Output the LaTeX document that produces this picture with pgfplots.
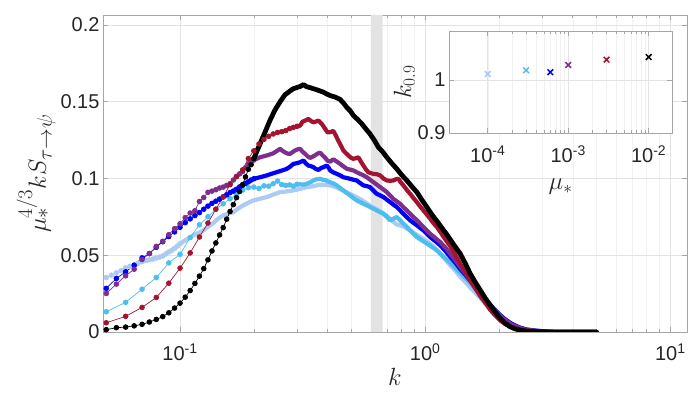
\documentclass[border=0pt]{standalone}
\usepackage{pgfplots}
\pgfplotsset{compat=1.18}
\usepackage{fontspec}
\setmainfont{Liberation Sans}
\definecolor{clight}{HTML}{ADCBF2}
\definecolor{csky}{HTML}{4DBEEE}
\definecolor{cblue}{HTML}{0000FF}
\definecolor{cpurp}{HTML}{7E2F8E}
\definecolor{cred}{HTML}{A2142F}
\definecolor{ctxt}{HTML}{262626}
\definecolor{cbox}{HTML}{A6A6A6}
\pgfplotsset{
  sm/.style={mark=*, mark size=2.4pt, line width=0.7pt},
  dn/.style={line width=4.2pt, line join=round, line cap=round, no marks},
  ix/.style={only marks, mark=x, mark size=4pt, line width=1.5pt},
  mstyle/.style={
    scale only axis,
    tick align=inside, major tick length=5pt, minor tick length=3pt,
    tick style={cbox, line width=0.5pt},
    axis line style={cbox, line width=0.6pt},
    xmajorgrids, xminorgrids, ymajorgrids,
    major grid style={gray!22, line width=0.5pt},
    minor grid style={gray!11, line width=0.4pt},
    tick label style={font=\fontsize{20}{24}\selectfont, text=ctxt},
    label style={text=ctxt},
  },
}
\begin{document}
\begin{tikzpicture}
\useasboundingbox (-103pt,-66pt) rectangle (594pt,332pt);
\begin{axis}[xmode=log, mstyle,
  at={(0,0)}, anchor=south west, width=584pt, height=317pt,
  xmin=0.0485, xmax=11.7, ymin=0, ymax=0.2065,
  xtick={0.1,1,10}, xticklabels={10\textsuperscript{-1},10\textsuperscript{0},10\textsuperscript{1}},
  xticklabel style={yshift=-8pt},
  ytick={0,0.05,0.1,0.15,0.2}, yticklabels={0,0.05,0.1,0.15,0.2},
  xlabel={$k$}, ylabel={$\mu_*^{4/3}kS_{\tau\rightarrow\psi}$},
  xlabel style={font=\fontsize{30}{34}\selectfont, yshift=0pt},
  ylabel style={font=\fontsize{30}{34}\selectfont, yshift=-2pt},
]
% grey band
\addplot[fill=gray!22, draw=none] coordinates {(0.6,0) (0.6,0.2065) (0.67,0.2065) (0.67,0)} \closedcycle;

% mu = 1e-4
\addplot[clight, sm] coordinates {(0.05,0.0355)(0.0525,0.0370)(0.055,0.0385)(0.0575,0.0400)(0.06,0.0418)(0.0625,0.0428)(0.065,0.0438)(0.0675,0.0448)(0.07,0.0458)(0.0725,0.0465)(0.075,0.0470)(0.0775,0.0475)(0.08,0.0482)(0.0825,0.0488)(0.085,0.0495)(0.0875,0.0508)(0.09,0.0522)(0.0925,0.0532)(0.095,0.0545)(0.0975,0.0560)(0.1,0.0575)};
\addplot[clight, dn] coordinates {(0.1,0.0575)(0.105,0.0597)(0.109,0.0612)(0.113,0.0630)(0.119,0.0645)(0.1245,0.0662)(0.13,0.0685)(0.137,0.0711)(0.143,0.0738)(0.15,0.0760)(0.157,0.0770)(0.165,0.0781)(0.173,0.0805)(0.181,0.0825)(0.19,0.0842)(0.199,0.0857)(0.212,0.0868)(0.226,0.0879)(0.24,0.0895)(0.256,0.0911)(0.273,0.0916)(0.29,0.0922)(0.309,0.0932)(0.329,0.0944)(0.35,0.0950)(0.373,0.0960)(0.391,0.0958)(0.41,0.0955)(0.43,0.0945)(0.45,0.0930)(0.475,0.0912)(0.5,0.0895)(0.525,0.0878)(0.55,0.0860)(0.575,0.0840)(0.6,0.0820)(0.625,0.0805)(0.65,0.0790)(0.675,0.0772)(0.7,0.0755)(0.73,0.0728)(0.766,0.0700)(0.79,0.0695)(0.82,0.0685)(0.845,0.0672)(0.87,0.0660)(0.91,0.0640)(0.954,0.0620)(1.0,0.0598)(1.048,0.0576)(1.1,0.0545)(1.151,0.0510)(1.21,0.0472)(1.265,0.0435)(1.33,0.0398)(1.39,0.0360)(1.46,0.0325)(1.526,0.0290)(1.60,0.0256)(1.677,0.0222)(1.76,0.0185)(1.842,0.0148)(1.93,0.0115)(2.024,0.0085)(2.12,0.0060)(2.223,0.0042)(2.33,0.0028)(2.443,0.0018)(2.6,0.0010)(2.857,0.0004)(3.3,0.0001)(3.8,0.0000)(5.0,0.0000)};

% mu = 3e-4
\addplot[csky, sm] coordinates {(0.05,0.0132)(0.06,0.0193)(0.07,0.0279)(0.08,0.0355)(0.09,0.0450)(0.1,0.0506)(0.11,0.0615)(0.12,0.0698)(0.13,0.0751)(0.14,0.0800)(0.15,0.0835)(0.16,0.0868)(0.17,0.0898)(0.18,0.0925)(0.19,0.0940)(0.2,0.0944)(0.21,0.0935)(0.22,0.0952)(0.23,0.0950)(0.24,0.0966)(0.25,0.0983)(0.26,0.0960)(0.27,0.0955)(0.28,0.0958)(0.29,0.0950)(0.3,0.0962)};
\addplot[csky, dn] coordinates {(0.3,0.0962)(0.309,0.0962)(0.32,0.0960)(0.329,0.0966)(0.34,0.0975)(0.35,0.0987)(0.36,0.0995)(0.373,0.0998)(0.382,0.0992)(0.391,0.0990)(0.40,0.0982)(0.41,0.0975)(0.422,0.0968)(0.436,0.0955)(0.45,0.0938)(0.464,0.0922)(0.479,0.0905)(0.494,0.0890)(0.51,0.0872)(0.526,0.0857)(0.543,0.0846)(0.56,0.0835)(0.578,0.0825)(0.596,0.0814)(0.615,0.0803)(0.635,0.0792)(0.655,0.0781)(0.676,0.0770)(0.698,0.0750)(0.72,0.0727)(0.742,0.0738)(0.766,0.0749)(0.79,0.0728)(0.815,0.0706)(0.842,0.0684)(0.869,0.0662)(0.896,0.0640)(0.925,0.0619)(0.97,0.0597)(1.016,0.0576)(1.066,0.0554)(1.116,0.0532)(1.19,0.0490)(1.265,0.0450)(1.33,0.0415)(1.39,0.0385)(1.46,0.0352)(1.526,0.0320)(1.60,0.0283)(1.677,0.0245)(1.76,0.0205)(1.842,0.0168)(1.93,0.0135)(2.024,0.0105)(2.12,0.0080)(2.223,0.0058)(2.33,0.0041)(2.443,0.0027)(2.6,0.0015)(2.857,0.0007)(3.3,0.0001)(3.8,0.0000)(5.0,0.0000)};

% mu = 6e-4
\addplot[cblue, sm] coordinates {(0.05,0.0284)(0.055,0.0349)(0.06,0.0392)(0.065,0.0435)(0.07,0.0483)(0.075,0.0511)(0.08,0.0552)(0.085,0.0588)(0.09,0.0622)(0.095,0.0652)(0.1,0.0682)(0.105,0.0712)(0.11,0.0737)(0.115,0.0758)(0.12,0.0778)(0.125,0.0800)(0.13,0.0820)(0.135,0.0838)(0.14,0.0852)(0.145,0.0866)(0.15,0.0880)(0.155,0.0893)(0.16,0.0908)(0.165,0.0918)(0.17,0.0930)(0.175,0.0945)(0.18,0.0955)(0.185,0.0968)(0.19,0.0978)(0.195,0.0990)(0.2,0.0998)};
\addplot[cblue, dn] coordinates {(0.2,0.0998)(0.212,0.1008)(0.226,0.1020)(0.24,0.1034)(0.256,0.1048)(0.273,0.1063)(0.28,0.1075)(0.29,0.1095)(0.3,0.1100)(0.309,0.1106)(0.319,0.1117)(0.326,0.1098)(0.334,0.1084)(0.342,0.1080)(0.35,0.1074)(0.358,0.1062)(0.367,0.1056)(0.376,0.1068)(0.385,0.1074)(0.397,0.1084)(0.404,0.1070)(0.41,0.1052)(0.422,0.1040)(0.436,0.1030)(0.45,0.1020)(0.464,0.1008)(0.479,0.1003)(0.494,0.0998)(0.51,0.0992)(0.526,0.0987)(0.543,0.0970)(0.56,0.0955)(0.578,0.0950)(0.596,0.0944)(0.615,0.0922)(0.635,0.0900)(0.655,0.0890)(0.676,0.0879)(0.698,0.0862)(0.72,0.0846)(0.742,0.0830)(0.766,0.0814)(0.791,0.0792)(0.815,0.0770)(0.842,0.0748)(0.869,0.0727)(0.896,0.0711)(0.925,0.0695)(0.954,0.0678)(0.984,0.0662)(1.016,0.0640)(1.048,0.0619)(1.1,0.0592)(1.151,0.0565)(1.21,0.0528)(1.265,0.0490)(1.33,0.0450)(1.39,0.0410)(1.46,0.0372)(1.526,0.0335)(1.60,0.0295)(1.677,0.0255)(1.76,0.0216)(1.842,0.0178)(1.93,0.0143)(2.024,0.0110)(2.12,0.0083)(2.223,0.0060)(2.33,0.0042)(2.443,0.0028)(2.6,0.0016)(2.857,0.0008)(3.3,0.0001)(3.8,0.0000)(5.0,0.0000)};

% mu = 1e-3
\addplot[cpurp, sm] coordinates {(0.05,0.0251)(0.055,0.0312)(0.06,0.0366)(0.065,0.0409)(0.07,0.0472)(0.075,0.0511)(0.08,0.0558)(0.085,0.0591)(0.09,0.0634)(0.095,0.0673)(0.1,0.0705)(0.105,0.0745)(0.11,0.0775)(0.115,0.0790)(0.12,0.0850)(0.125,0.0876)(0.13,0.0910)(0.135,0.0918)(0.14,0.0927)(0.145,0.0938)(0.15,0.0944)(0.155,0.0955)(0.16,0.0966)(0.165,0.0990)(0.17,0.1013)(0.175,0.1030)(0.18,0.1045)(0.185,0.1070)(0.19,0.1095)(0.195,0.1110)(0.2,0.1120)};
\addplot[cpurp, dn] coordinates {(0.2,0.1120)(0.212,0.1138)(0.226,0.1150)(0.24,0.1164)(0.256,0.1193)(0.262,0.1180)(0.268,0.1170)(0.275,0.1162)(0.281,0.1160)(0.288,0.1172)(0.294,0.1182)(0.302,0.1190)(0.309,0.1193)(0.316,0.1175)(0.324,0.1160)(0.331,0.1145)(0.339,0.1134)(0.347,0.1142)(0.355,0.1150)(0.364,0.1162)(0.373,0.1168)(0.382,0.1150)(0.391,0.1135)(0.40,0.1115)(0.41,0.1110)(0.422,0.1125)(0.436,0.1110)(0.45,0.1095)(0.465,0.1078)(0.479,0.1063)(0.495,0.1058)(0.51,0.1052)(0.527,0.1040)(0.543,0.1030)(0.56,0.1020)(0.578,0.1008)(0.596,0.0992)(0.615,0.0976)(0.635,0.0960)(0.655,0.0944)(0.676,0.0928)(0.698,0.0911)(0.72,0.0889)(0.742,0.0867)(0.766,0.0851)(0.791,0.0835)(0.815,0.0813)(0.842,0.0792)(0.869,0.0770)(0.896,0.0749)(0.925,0.0728)(0.954,0.0706)(1.0,0.0672)(1.048,0.0640)(1.1,0.0612)(1.151,0.0586)(1.21,0.0550)(1.265,0.0510)(1.33,0.0465)(1.39,0.0425)(1.46,0.0382)(1.526,0.0340)(1.60,0.0297)(1.677,0.0255)(1.76,0.0213)(1.842,0.0175)(1.93,0.0138)(2.024,0.0105)(2.12,0.0078)(2.223,0.0055)(2.33,0.0038)(2.443,0.0025)(2.6,0.0014)(2.857,0.0007)(3.3,0.0001)(3.8,0.0000)(5.0,0.0000)};

% mu = 3e-3
\addplot[cred, sm] coordinates {(0.05,0.0060)(0.06,0.0102)(0.07,0.0160)(0.08,0.0225)(0.09,0.0318)(0.1,0.0416)(0.11,0.0515)(0.12,0.0619)(0.13,0.0710)(0.14,0.0800)(0.15,0.0880)(0.16,0.0960)(0.17,0.1012)(0.18,0.1056)(0.19,0.1130)(0.2,0.1180)(0.21,0.1225)(0.22,0.1255)(0.23,0.1275)(0.24,0.1290)(0.25,0.1300)(0.26,0.1305)(0.27,0.1312)(0.28,0.1325)(0.29,0.1333)(0.3,0.1340)};
\addplot[cred, dn] coordinates {(0.3,0.1340)(0.309,0.1344)(0.316,0.1370)(0.324,0.1377)(0.334,0.1388)(0.342,0.1375)(0.35,0.1366)(0.36,0.1372)(0.367,0.1377)(0.379,0.1355)(0.391,0.1323)(0.40,0.1300)(0.41,0.1302)(0.422,0.1310)(0.432,0.1280)(0.442,0.1247)(0.453,0.1215)(0.464,0.1182)(0.475,0.1165)(0.486,0.1150)(0.498,0.1135)(0.51,0.1128)(0.522,0.1132)(0.534,0.1138)(0.547,0.1110)(0.56,0.1084)(0.573,0.1060)(0.587,0.1040)(0.6,0.1035)(0.615,0.1030)(0.635,0.1028)(0.655,0.1020)(0.676,0.1000)(0.698,0.0987)(0.72,0.0985)(0.742,0.0987)(0.76,0.0995)(0.778,0.0998)(0.795,0.0975)(0.815,0.0955)(0.842,0.0925)(0.869,0.0900)(0.896,0.0872)(0.925,0.0846)(0.954,0.0818)(0.984,0.0792)(1.016,0.0765)(1.048,0.0738)(1.08,0.0710)(1.116,0.0684)(1.15,0.0655)(1.188,0.0620)(1.226,0.0590)(1.265,0.0560)(1.33,0.0500)(1.39,0.0445)(1.46,0.0390)(1.526,0.0335)(1.60,0.0285)(1.677,0.0235)(1.76,0.0190)(1.842,0.0145)(1.93,0.0108)(2.024,0.0075)(2.12,0.0052)(2.223,0.0036)(2.33,0.0025)(2.443,0.0017)(2.6,0.0010)(2.857,0.0005)(3.2,0.0001)(3.6,0.0000)(5.0,0.0000)};

% mu = 1e-2
\addplot[black, sm] coordinates {(0.05,0.0015)(0.055,0.0028)(0.06,0.0032)(0.065,0.0040)(0.07,0.0050)(0.075,0.0065)(0.08,0.0082)(0.085,0.0100)(0.09,0.0125)(0.095,0.0156)(0.1,0.0188)(0.105,0.0227)(0.11,0.0270)(0.115,0.0316)(0.12,0.0364)(0.125,0.0413)(0.13,0.0470)(0.135,0.0528)(0.14,0.0580)(0.145,0.0632)(0.15,0.0680)(0.155,0.0735)(0.16,0.0785)(0.165,0.0830)(0.17,0.0875)(0.175,0.0915)(0.18,0.0960)(0.185,0.1010)(0.19,0.1060)(0.195,0.1090)(0.2,0.1130)};
\addplot[black, dn, line width=4.8pt] coordinates {(0.2,0.1130)(0.212,0.1225)(0.222,0.1300)(0.233,0.1380)(0.244,0.1446)(0.256,0.1500)(0.268,0.1545)(0.281,0.1570)(0.29,0.1585)(0.299,0.1592)(0.31,0.1600)(0.319,0.1612)(0.328,0.1598)(0.339,0.1592)(0.35,0.1585)(0.361,0.1578)(0.373,0.1570)(0.385,0.1562)(0.397,0.1550)(0.41,0.1540)(0.43,0.1530)(0.45,0.1515)(0.465,0.1490)(0.479,0.1463)(0.495,0.1440)(0.51,0.1410)(0.53,0.1385)(0.552,0.1355)(0.575,0.1320)(0.596,0.1290)(0.62,0.1250)(0.645,0.1203)(0.67,0.1175)(0.698,0.1138)(0.73,0.1100)(0.766,0.1063)(0.8,0.1025)(0.842,0.0987)(0.88,0.0950)(0.925,0.0911)(0.97,0.0860)(1.016,0.0814)(1.07,0.0760)(1.12,0.0720)(1.18,0.0670)(1.226,0.0635)(1.30,0.0575)(1.39,0.0510)(1.46,0.0445)(1.526,0.0381)(1.60,0.0325)(1.677,0.0273)(1.76,0.0220)(1.842,0.0175)(1.93,0.0130)(2.024,0.0089)(2.12,0.0058)(2.223,0.0034)(2.33,0.0020)(2.443,0.0012)(2.6,0.0005)(2.857,0.0002)(3.2,0.0000)(5.0,0.0000)};
\end{axis}

\begin{axis}[xmode=log, mstyle,
  at={(346pt,199pt)}, anchor=south west, width=223pt, height=102pt,
  axis background/.style={fill=white},
  xmin=3.3e-5, xmax=1.95e-2, ymin=0.9, ymax=1.092,
  xtick={1e-4,1e-3,1e-2}, xticklabels={10\textsuperscript{-4},10\textsuperscript{-3},10\textsuperscript{-2}},
  xticklabel style={yshift=-9pt},
  ytick={0.9,1}, yticklabels={0.9,1},
  xlabel={$\mu_*$}, ylabel={$k_{0.9}$},
  xlabel style={font=\fontsize{26}{30}\selectfont, yshift=-9pt},
  ylabel style={font=\fontsize{26}{30}\selectfont, yshift=-4pt},
]
\addplot[clight, ix] coordinates {(1e-4,1.011)};
\addplot[csky, ix] coordinates {(3e-4,1.018)};
\addplot[cblue, ix] coordinates {(6e-4,1.0145)};
\addplot[cpurp, ix] coordinates {(1e-3,1.028)};
\addplot[cred, ix] coordinates {(3e-3,1.038)};
\addplot[black, ix] coordinates {(1e-2,1.043)};
\end{axis}
\end{tikzpicture}
\end{document}
